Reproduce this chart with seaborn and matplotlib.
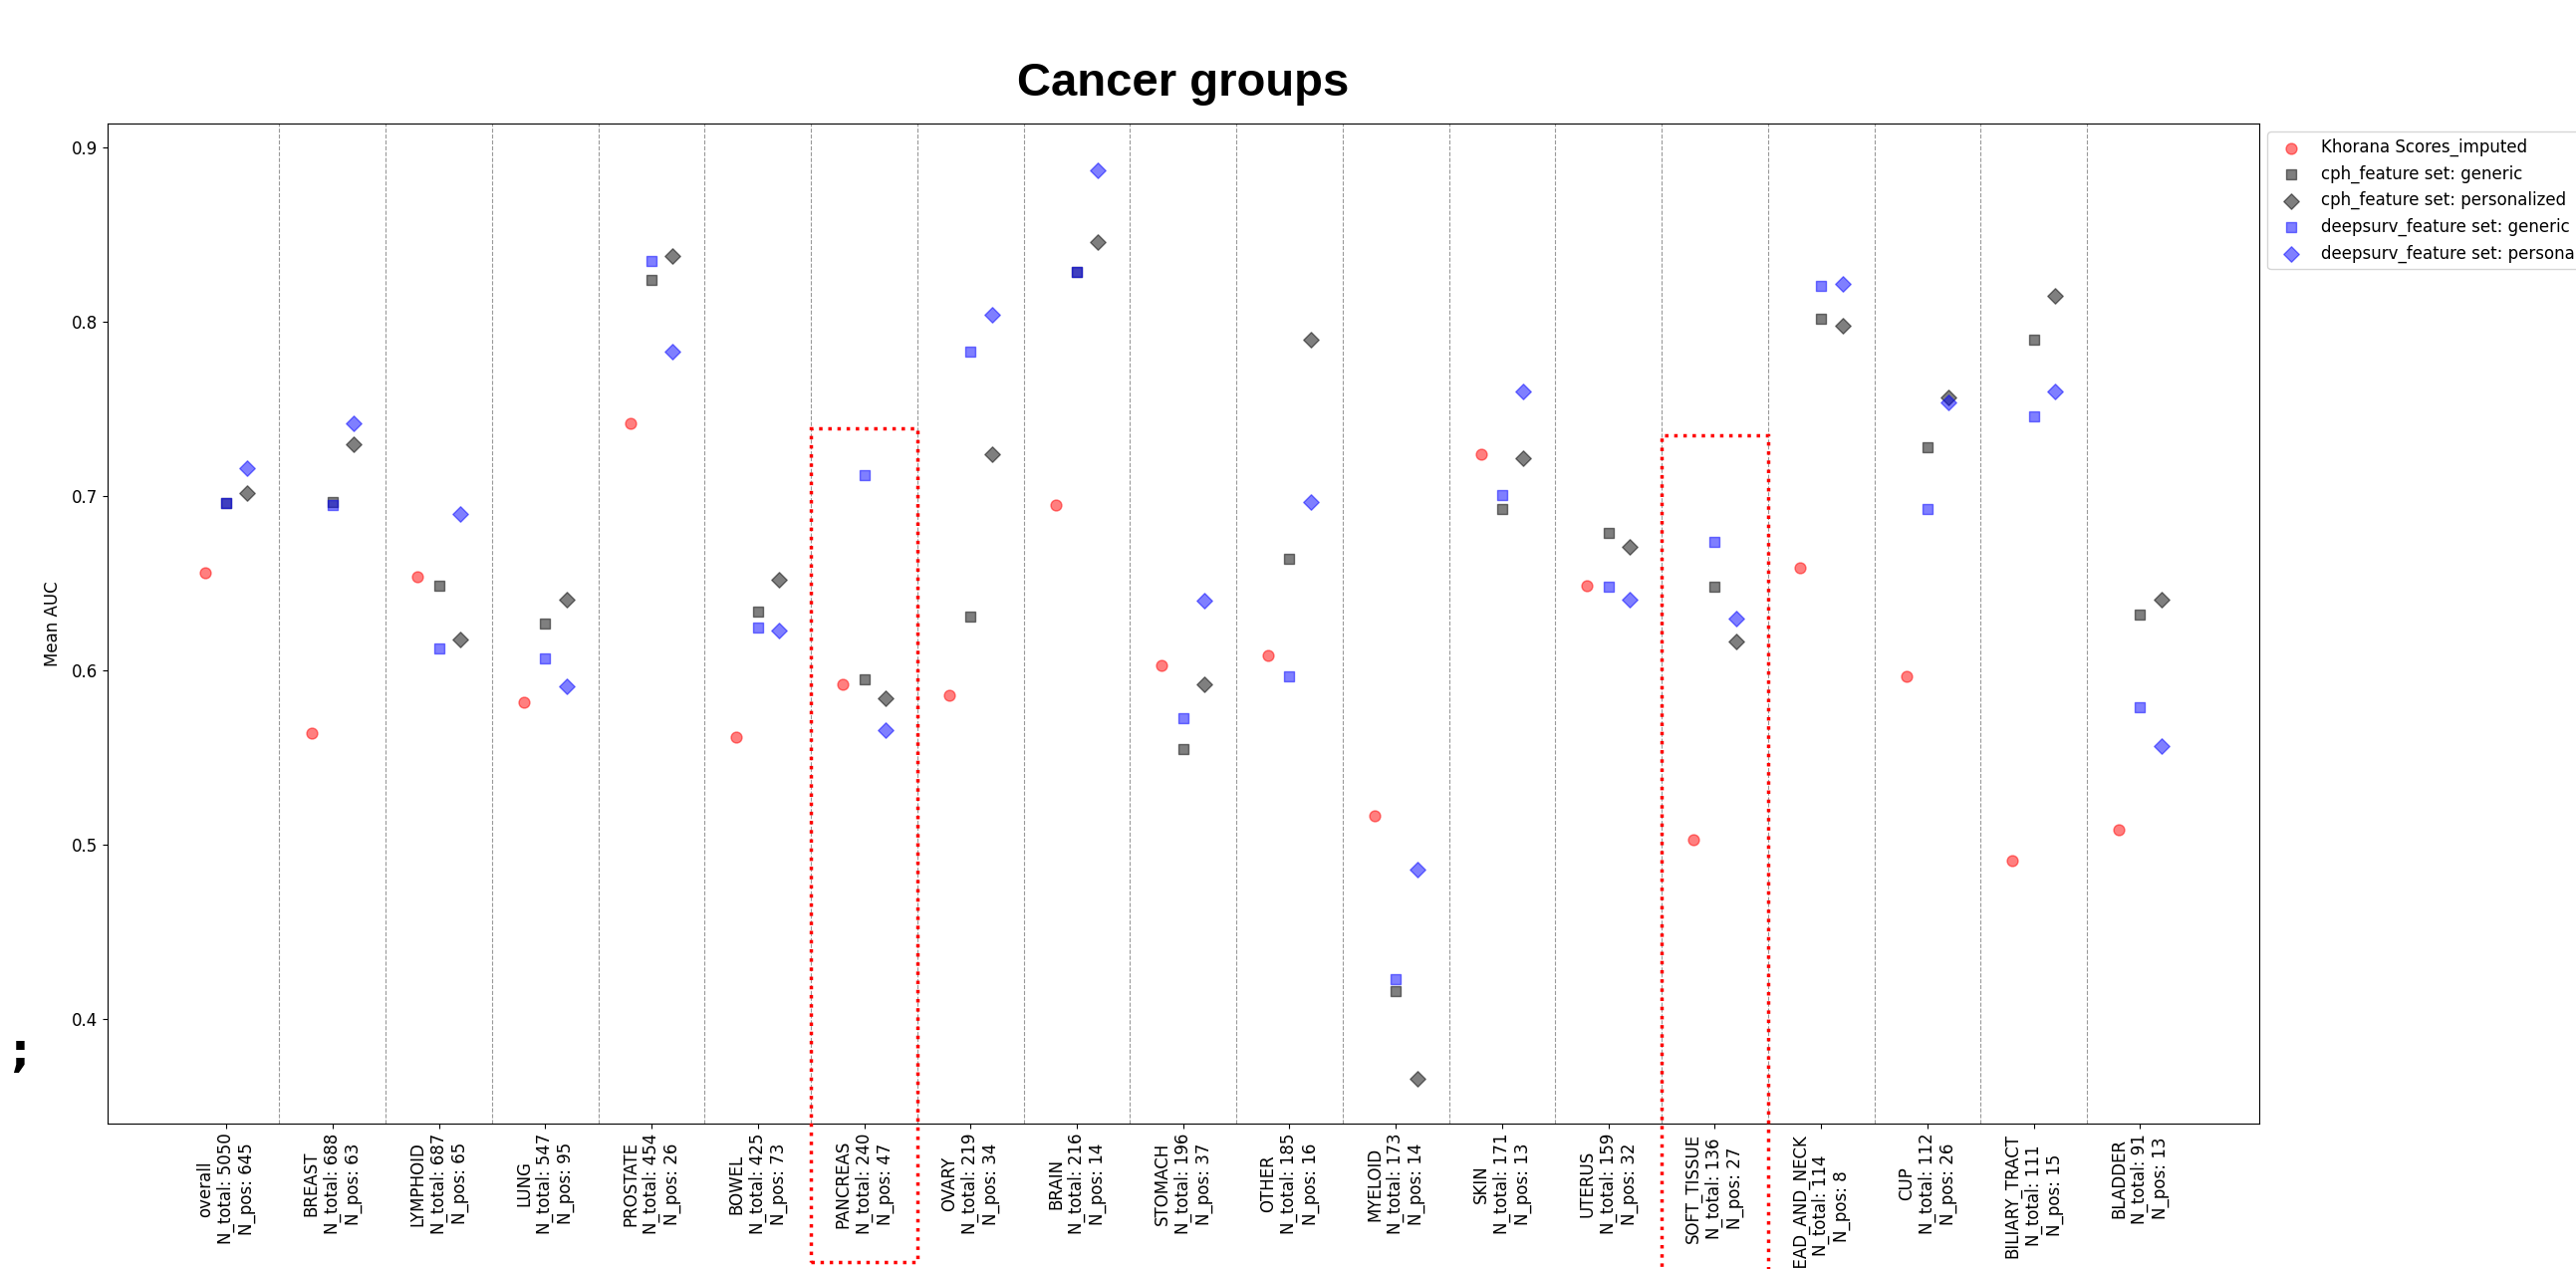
import numpy as np
import pandas as pd
import matplotlib
matplotlib.use("Agg")
import matplotlib.pyplot as plt
from matplotlib.patches import Rectangle
import seaborn as sns

# ---------------- data ----------------
categories = ["overall", "BREAST", "LYMPHOID", "LUNG", "PROSTATE", "BOWEL", "PANCREAS",
              "OVARY", "BRAIN", "STOMACH", "OTHER", "MYELOID", "SKIN", "UTERUS",
              "SOFT_TISSUE", "HEAD_AND_NECK", "CUP", "BILIARY_TRACT", "BLADDER"]
n_total = [5050, 688, 687, 547, 454, 425, 240, 219, 216, 196, 185, 173, 171, 159, 136, 114, 112, 111, 91]
n_pos = [645, 63, 65, 95, 26, 73, 47, 34, 14, 37, 16, 14, 13, 32, 27, 8, 26, 15, 13]

khorana = [0.656, 0.564, 0.654, 0.582, 0.742, 0.562, 0.592, 0.586, 0.695, 0.603,
           0.609, 0.517, 0.724, 0.649, 0.503, 0.659, 0.597, 0.491, 0.509]
cph_generic = [0.696, 0.697, 0.649, 0.627, 0.824, 0.634, 0.595, 0.631, 0.829, 0.555,
               0.664, 0.416, 0.693, 0.679, 0.648, 0.802, 0.728, 0.790, 0.632]
cph_personalized = [0.702, 0.730, 0.618, 0.641, 0.838, 0.652, 0.584, 0.724, 0.846, 0.592,
                    0.790, 0.366, 0.722, 0.671, 0.617, 0.798, 0.757, 0.815, 0.641]
deepsurv_generic = [0.696, 0.695, 0.613, 0.607, 0.835, 0.625, 0.712, 0.783, 0.829, 0.573,
                    0.597, 0.423, 0.701, 0.648, 0.674, 0.821, 0.693, 0.746, 0.579]
deepsurv_personalized = [0.716, 0.742, 0.690, 0.591, 0.783, 0.623, 0.566, 0.804, 0.887, 0.640,
                         0.697, 0.486, 0.760, 0.641, 0.630, 0.822, 0.754, 0.760, 0.557]

series_names = ["Khorana Scores_imputed", "cph_feature set: generic", "cph_feature set: personalized",
                "deepsurv_feature set: generic", "deepsurv_feature set: personalized"]
series_values = [khorana, cph_generic, cph_personalized, deepsurv_generic, deepsurv_personalized]

highlight_groups = ["PANCREAS", "SOFT_TISSUE"]
highlight_top = [0.739, 0.735]
highlight_bottom = [0.261, 0.20]

# ---------------- styling ----------------
offsets = [-0.2, 0.0, 0.2, 0.0, 0.2]
colors = ["red", "black", "black", "blue", "blue"]
markers = ["o", "s", "D", "s", "D"]

plt.rcParams["font.family"] = ["DejaVu Sans"]

fig = plt.figure(figsize=(25.86, 12.74), dpi=100)
ax = fig.add_axes([0.0416, 0.1146, 0.8354, 0.7881])

idx = np.arange(len(categories))
for name, vals, off, col, mk in zip(series_names, series_values, offsets, colors, markers):
    df = pd.DataFrame({"x": idx + off, "auc": vals})
    sns.scatterplot(data=df, x="x", y="auc", ax=ax, color=col, marker=mk, alpha=0.5,
                    s=62, edgecolor="face", linewidth=1.0, label=name)

for i in range(len(categories) - 1):
    ax.axvline(i + 0.5, color="grey", linestyle="--", linewidth=0.8, alpha=0.8, zorder=0)

for grp, top, bot in zip(highlight_groups, highlight_top, highlight_bottom):
    i = categories.index(grp)
    ax.add_patch(Rectangle((i - 0.5, bot), 1.0, top - bot, fill=False, edgecolor="red",
                           linestyle=":", linewidth=2.5, clip_on=False, zorder=5))

ax.set_xlim(-1.12, 19.12)
ax.set_ylim(0.3403, 0.9139)

labels = [f"{c}\nN_total: {t}\nN_pos: {p}" for c, t, p in zip(categories, n_total, n_pos)]
ax.set_xticks(idx)
ax.set_xticklabels(labels, rotation=90, fontsize=12, ha="center", va="top")
ax.tick_params(axis="y", labelsize=12)
ax.set_xlabel("")
ax.set_ylabel("Mean AUC", fontsize=12, labelpad=7)
ax.set_title("Cancer groups", fontsize=34, fontweight="bold",
             family=["Liberation Sans", "DejaVu Sans"], pad=20)

ax.legend(loc="upper left", bbox_to_anchor=(1.0, 1.0), fontsize=12)

fig.text(0.004, 0.170, ";", fontsize=34, fontweight="bold", va="center", ha="left")

fig.savefig("out.png", dpi=100)
